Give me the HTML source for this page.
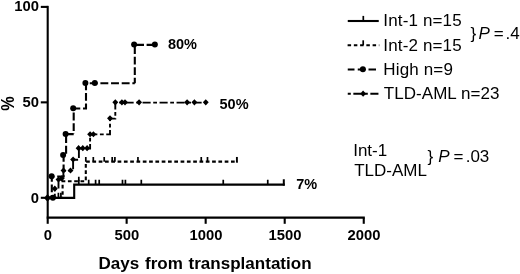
<!DOCTYPE html>
<html lang="en"><head><meta charset="utf-8"><title>Cumulative incidence</title>
<style>
html,body{margin:0;padding:0;background:#fff;}
body{width:520px;height:274px;overflow:hidden;}
svg{display:block;}
text{font-family:"Liberation Sans", Arial, Helvetica, sans-serif;fill:#000;}
.b{font-weight:bold;}
</style></head><body>
<svg width="520" height="274" viewBox="0 0 520 274">
<rect width="520" height="274" fill="#fff"/>
<g stroke="#000" stroke-width="2.1" fill="none" stroke-linecap="butt">
<path d="M47.7 5.85 V223.8"/>
<path d="M46.7 217.6 H364.8"/>
<path d="M40.8 197.80 H47.7"/>
<path d="M40.8 102.35 H47.7"/>
<path d="M40.8 6.90 H47.7"/>
<path d="M126.64 217.6 V223.8"/>
<path d="M205.67 217.6 V223.8"/>
<path d="M284.71 217.6 V223.8"/>
<path d="M363.75 217.6 V223.8"/>
</g>
<text class="b" x="39" y="202.60" font-size="14.8" text-anchor="end">0</text>
<text class="b" x="39" y="107.45" font-size="14.8" text-anchor="end">50</text>
<text class="b" x="39" y="11.40" font-size="14.8" text-anchor="end">100</text>
<text class="b" x="47.90" y="240" font-size="14.8" text-anchor="middle">0</text>
<text class="b" x="126.94" y="240" font-size="14.8" text-anchor="middle">500</text>
<text class="b" x="205.97" y="240" font-size="14.8" text-anchor="middle">1000</text>
<text class="b" x="285.01" y="240" font-size="14.8" text-anchor="middle">1500</text>
<text class="b" x="364.05" y="240" font-size="14.8" text-anchor="middle">2000</text>
<text class="b" transform="translate(98.55 268.55) scale(1.065 1)" font-size="16" word-spacing="0.95">Days from transplantation</text>
<text class="b" transform="translate(14.45 110.75) rotate(-90) scale(0.95 1.08)" font-size="17.2">%</text>
<g transform="translate(0 0.36)">
<g stroke="#000" fill="none">
<path stroke-width="2.1" d="M47.6 197.5 H74.2 V184.25 H284.75"/>
<path stroke-width="1.7" d="M58.4 197.5 V192.4M60.9 197.5 V192.4M78.8 184.25 V179.4M88.7 184.25 V179.4M95.6 184.25 V179.4M99.2 184.25 V179.4M122.5 184.25 V179.4M125.4 184.25 V179.4M141.3 184.25 V179.4M223.25 184.25 V179.4M267.75 184.25 V179.4"/>
<path stroke-width="2" d="M283.8 185.25 V178.9"/>
</g>
<path stroke="#000" fill="none" stroke-width="2.1" stroke-dasharray="3.7 2.6" stroke-dashoffset="0.90" d="M47.6 197.5 L62.6 197.5 L62.6 180.9 L85.8 180.9 L85.8 161.3 L237.6 161.3"/>
<path stroke="#000" fill="none" stroke-width="1.7" d="M93.3 161.3 V156.7M104.2 161.3 V156.7M112.2 161.3 V156.7M114.9 161.3 V156.7M137.95 161.3 V156.7M201.25 161.3 V156.7M207.5 161.3 V156.7M85.8 161.3 V156.7 M78.8 180.9 V176.4"/>
<path stroke="#000" fill="none" stroke-width="1.9" d="M236.9 162.3 V156.6"/>
<path stroke="#000" fill="none" stroke-width="2.1" stroke-dasharray="7.8 2.8" stroke-dashoffset="0.90" d="M47.6 197.5 L51.8 197.5 L51.8 176.2 L63.6 176.2 L63.6 154.8 L66.1 154.8"/>
<path stroke="#000" fill="none" stroke-width="2.1" stroke-dasharray="7.8 2.8" stroke-dashoffset="9.10" d="M66.1 154.8 L66.1 133.75 L73.7 133.75"/>
<path stroke="#000" fill="none" stroke-width="2.1" stroke-dasharray="7.9 2.75" stroke-dashoffset="7.65" d="M73.7 133.75 L73.7 108.1 L86 108.1 L86 82.9 L134.8 82.9"/>
<path stroke="#000" fill="none" stroke-width="2.1" stroke-dasharray="7.9 2.6" stroke-dashoffset="2.30" d="M134.8 82.9 L134.8 44.5 L154.8 44.5"/>
<circle cx="52.9" cy="197.45" r="3.0"/>
<circle cx="51.6" cy="176.00" r="3.0"/>
<circle cx="63.1" cy="154.70" r="3.0"/>
<circle cx="65.6" cy="133.55" r="3.0"/>
<circle cx="73.2" cy="107.80" r="3.0"/>
<circle cx="85.4" cy="82.60" r="3.0"/>
<circle cx="94.8" cy="82.60" r="3.0"/>
<circle cx="134.1" cy="44.10" r="3.0"/>
<circle cx="154.85" cy="44.10" r="3.0"/>
<text class="b" x="167.9" y="48.35" font-size="14.5">80%</text>
<path stroke="#000" fill="none" stroke-width="1.9" stroke-dasharray="8.1 2.55 3.8 2.55" stroke-dashoffset="13.85" d="M47.6 197.5 L54.8 197.5 L54.8 188.6 L58.5 188.6 L58.5 179.4 L61.8 179.4 L61.8 178.3 L63.4 178.3 L63.4 170.5 L73.1 170.5 L73.1 159.4 L78.9 159.4 L78.9 148.1 L90.1 148.1 L90.1 134 L110 134 L110 118.3 L115.3 118.3 L115.3 102.3 L205.9 102.3"/>
<path d="M44.00 197.55L47.5 193.75L51.00 197.55L47.5 201.35ZM51.85 188.3L54.8 185.25L57.75 188.3L54.8 191.35ZM55.55 179.2L58.5 176.15L61.45 179.2L58.5 182.25ZM58.85 178.0L61.8 174.95L64.75 178.0L61.8 181.05ZM60.55 170.2L63.5 167.15L66.45 170.2L63.5 173.25ZM67.55 170.2L70.5 167.15L73.45 170.2L70.5 173.25ZM70.15 159.1L73.1 156.05L76.05 159.1L73.1 162.15ZM75.65 147.8L78.6 144.75L81.55 147.8L78.6 150.85ZM79.85 147.8L82.8 144.75L85.75 147.8L82.8 150.85ZM84.15 147.8L87.1 144.75L90.05 147.8L87.1 150.85ZM87.15 133.9L90.1 130.85L93.05 133.9L90.1 136.95ZM90.45 133.9L93.4 130.85L96.35 133.9L93.4 136.95ZM107.05 118.0L110 114.95L112.95 118.0L110 121.05ZM112.35 102.0L115.3 98.95L118.25 102.0L115.3 105.05ZM118.95 102.0L121.9 98.95L124.85 102.0L121.9 105.05ZM122.05 102.0L125 98.95L127.95 102.0L125 105.05ZM136.15 102.0L139.1 98.95L142.05 102.0L139.1 105.05ZM184.15 102.0L187.1 98.95L190.05 102.0L187.1 105.05ZM191.45 102.0L194.4 98.95L197.35 102.0L194.4 105.05ZM202.80 102.0L205.75 98.95L208.70 102.0L205.75 105.05Z"/>
</g>
<text class="b" x="219.5" y="108.5" font-size="14.5">50%</text>
<text class="b" x="296.3" y="188.8" font-size="14.5">7%</text>
<g stroke="#000" fill="none">
<path stroke-width="2.1" d="M347.75 21 H378.75"/><path stroke-width="1.7" d="M363.3 21 V15.9"/>
<path stroke-width="1.7" d="M363.2 45.2 V40.3"/>
</g>
<path stroke="#000" fill="none" stroke-width="2.1" stroke-dasharray="3.5 2.75" stroke-dashoffset="0.00" d="M347.6 45.2 L379.3 45.2"/>
<path stroke="#000" fill="none" stroke-width="2.1" stroke-dasharray="7.5 3.25" stroke-dashoffset="0.75" d="M347.75 69.45 L378.75 69.45"/>
<path stroke="#000" fill="none" stroke-width="1.9" stroke-dasharray="8.1 2.55 3.8 2.55" stroke-dashoffset="11.40" d="M347.75 93.8 L378.75 93.8"/>
<circle cx="362.9" cy="69.3" r="3.0"/>
<path d="M360.15 93.65L363.1 90.60L366.05 93.65L363.1 96.70Z"/>
<text x="383.3" y="26.45" font-size="17" letter-spacing="0.15">Int-1 n=15</text>
<text x="383.3" y="50.55" font-size="17" letter-spacing="0.15">Int-2 n=15</text>
<text x="383.3" y="74.65" font-size="17" letter-spacing="0.15">High n=9</text>
<text x="383.8" y="98.75" font-size="17" letter-spacing="0.05">TLD-AML n=23</text>
<text x="470.6" y="39" font-size="17">}<tspan font-style="italic" dx="2.3">P</tspan><tspan dx="3.9">=</tspan><tspan dx="1.8">.4</tspan></text>
<text x="353.2" y="155.5" font-size="17">Int-1</text>
<text x="354.2" y="175.5" font-size="17">TLD-AML</text>
<text x="427.6" y="162.4" font-size="17">}<tspan font-style="italic" dx="5">P</tspan><tspan dx="3.8">=</tspan><tspan dx="2.3">.03</tspan></text>
</svg>
</body></html>
